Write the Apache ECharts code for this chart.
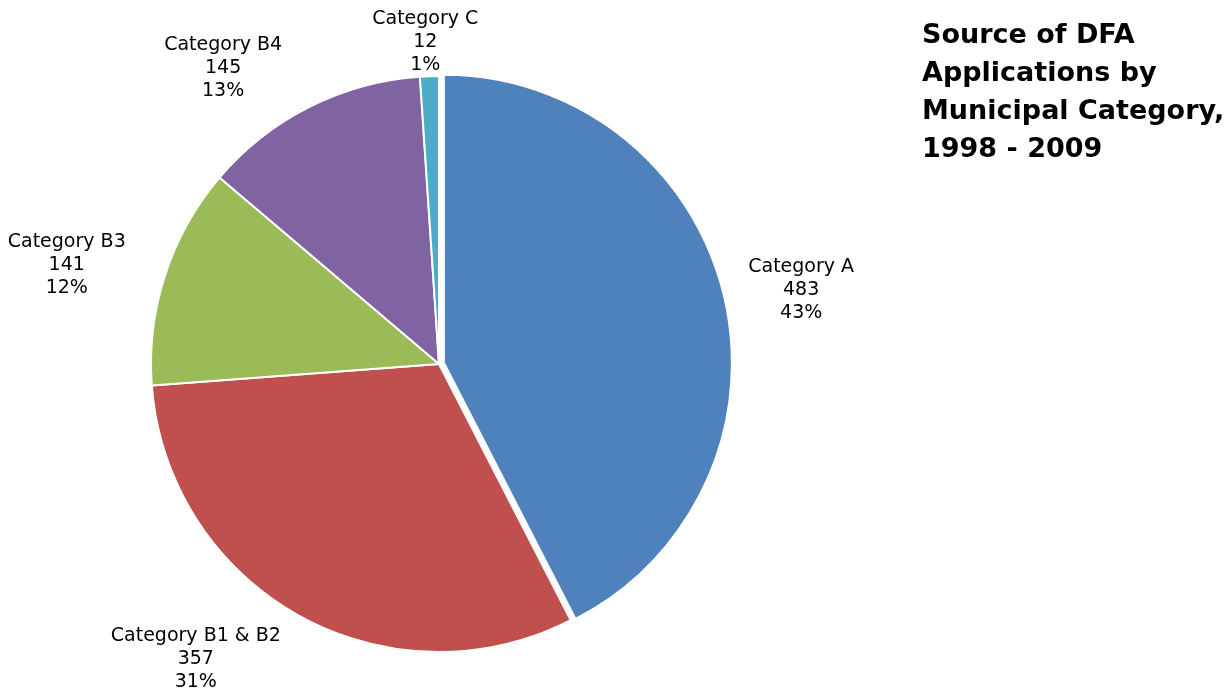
<!DOCTYPE html>
<html>
<head>
<meta charset="utf-8">
<style>
  html, body { margin: 0; padding: 0; background: #fff; }
  #chart { width: 1228px; height: 691px; }
</style>
<script src="https://cdn.jsdelivr.net/npm/echarts@6/dist/echarts.min.js"></script>
</head>
<body>
<div id="chart"></div>
<script>
// Applications by municipal category
const categories = ['Category A', 'Category B1 & B2', 'Category B3', 'Category B4', 'Category C'];
const applications = [483, 357, 141, 145, 12];
const percentLabels = ['43%', '31%', '12%', '13%', '1%'];
const sliceColors = ['#4F81BD', '#C0504D', '#9BBB59', '#8064A2', '#4BACC6'];

// Per-slice label placement (radial length, horizontal length)
const labelLen = [22, 50, 32, 43, 34];
const labelLen2 = [51, -12, 4, 3, -55];

const chart = echarts.init(document.getElementById('chart'), null, { renderer: 'canvas' });

const seriesData = categories.map((name, i) => ({
  name: name,
  value: applications[i],
  selected: i === 0,
  itemStyle: { color: sliceColors[i] },
  labelLine: { show: false, length: labelLen[i], length2: labelLen2[i] }
}));

chart.setOption({
  animation: false,
  title: {
    text: 'Source of DFA\nApplications by\nMunicipal Category,\n1998 - 2009',
    left: 917,
    top: 12,
    textStyle: {
      fontFamily: 'DejaVu Sans, sans-serif',
      fontSize: 27,
      fontWeight: 'bold',
      color: '#000',
      lineHeight: 38
    }
  },
  series: [{
    type: 'pie',
    center: [439, 364],
    radius: 288,
    startAngle: 90,
    clockwise: true,
    selectedMode: 'single',
    selectedOffset: 5,
    avoidLabelOverlap: false,
    itemStyle: { borderColor: '#fff', borderWidth: 2 },
    emphasis: { disabled: true },
    label: {
      show: true,
      position: 'outside',
      fontFamily: 'DejaVu Sans, sans-serif',
      fontSize: 19,
      lineHeight: 23,
      color: '#000',
      formatter: (p) => p.name + '\n' + p.value + '\n' + percentLabels[p.dataIndex]
    },
    labelLine: { show: false },
    labelLayout: (p) => ({
      x: p.labelRect.x + p.labelRect.width / 2,
      y: p.labelRect.y + p.labelRect.height / 2,
      align: 'center',
      verticalAlign: 'middle'
    }),
    data: seriesData
  }]
});
</script>
</body>
</html>
